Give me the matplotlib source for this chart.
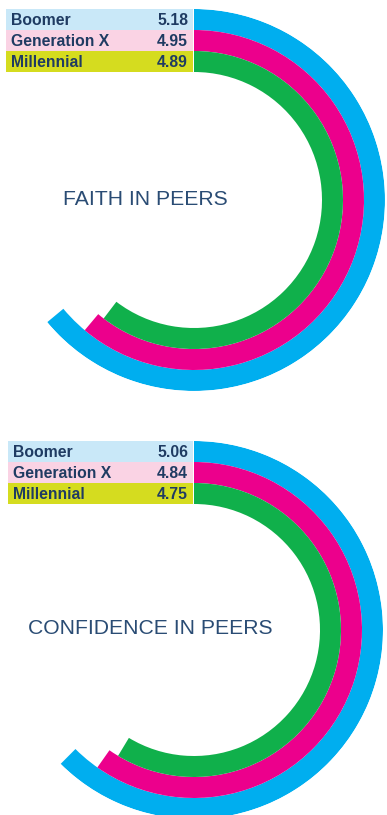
import matplotlib
matplotlib.use("Agg")
import matplotlib.pyplot as plt
import numpy as np
from matplotlib.patches import Rectangle

# ---------------- data ----------------
generations = ["Boomer", "Generation X", "Millennial"]
faith_values = [5.18, 4.95, 4.89]
confidence_values = [5.06, 4.84, 4.75]
chart_titles = ["FAITH IN PEERS", "CONFIDENCE IN PEERS"]
scale_max = 8.1  # value that would correspond to a full circle

# ---------------- style ----------------
ring_colors = ["#00AEEF", "#EC008C", "#10B04B"]
label_bg = ["#C9E8F8", "#FAD3E4", "#D5DC1F"]
text_color = "#1F3B62"
title_color = "#2A4C74"
FONT = ["Liberation Sans", "DejaVu Sans"]

W, H = 387, 815
fig = plt.figure(figsize=(W / 100, H / 100), dpi=100)
fig.patch.set_facecolor("white")

overlay = fig.add_axes([0, 0, 1, 1])
overlay.set_xlim(0, W)
overlay.set_ylim(H, 0)
overlay.axis("off")
overlay.patch.set_alpha(0)

charts = [
    dict(values=faith_values, title=chart_titles[0], cx=194, cy=200,
         outer=191, band=21, label_left=6, title_x=145.5, title_base=205),
    dict(values=confidence_values, title=chart_titles[1], cx=194, cy=630,
         outer=189, band=21, label_left=8, title_x=150.5, title_base=634),
]

for ch in charts:
    cx, cy, R, band = ch["cx"], ch["cy"], ch["outer"], ch["band"]
    ax = fig.add_axes([(cx - R) / W, 1 - (cy + R) / H, 2 * R / W, 2 * R / H],
                      projection="polar")
    ax.set_theta_zero_location("N")
    ax.set_theta_direction(-1)
    for i, v in enumerate(ch["values"]):
        r_out = R - i * band
        ax.barh(r_out - band / 2, np.deg2rad(v / scale_max * 360.0), left=0,
                height=band, color=ring_colors[i], linewidth=0, antialiased=True)
        # label row
        top = cy - r_out
        overlay.add_patch(Rectangle((ch["label_left"], top), cx - 1 - ch["label_left"], band,
                                    facecolor=label_bg[i], edgecolor="none"))
        overlay.text(ch["label_left"] + 5, top + band - 5, generations[i],
                     family=FONT, weight="bold", fontsize=11.3, color=text_color,
                     ha="left", va="baseline")
        overlay.text(cx - 6, top + band - 5, f"{v:.2f}",
                     family=FONT, weight="bold", fontsize=11.3, color=text_color,
                     ha="right", va="baseline")
    ax.set_thetalim(0, 2 * np.pi)
    ax.set_ylim(0, R)
    ax.axis("off")
    overlay.text(ch["title_x"], ch["title_base"], ch["title"], family=FONT,
                 fontsize=15.2, color=title_color, ha="center", va="baseline")

fig.savefig("out.png", dpi=100, facecolor="white")
